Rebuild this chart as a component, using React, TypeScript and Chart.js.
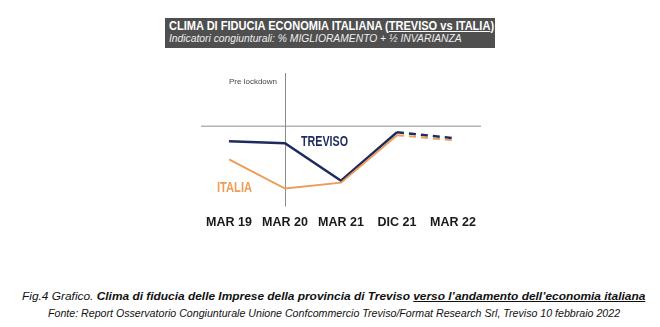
import React, { useEffect, useLayoutEffect, useRef } from 'react';
import { Chart, registerables } from 'chart.js';

Chart.register(...registerables);

const categories = ['MAR 19', 'MAR 20', 'MAR 21', 'DIC 21', 'MAR 22'];
const trevisoValues = [44.4, 43.7, 29.6, 47.8, 45.6];
const italiaValues = [37.6, 26.7, 28.9, 46.7, 44.8];
const referenceLevel = 50;
const yMin = 20;
const yMax = 70;
const lockdownIndex = 1;
const dashedFromIndex = 4;

const NAVY = '#1e2b5e';
const ORANGE = '#ee9c58';

const overlayPlugin = {
  id: 'overlay',
  beforeDatasetsDraw(chart: any) {
    const { ctx, chartArea, scales } = chart;
    const xs = scales.x;
    const ys = scales.y;
    ctx.save();
    const yr = ys.getPixelForValue(referenceLevel);
    ctx.strokeStyle = '#b4b4b4';
    ctx.lineWidth = 1.5;
    ctx.beginPath();
    ctx.moveTo(chartArea.left, yr);
    ctx.lineTo(chartArea.right, yr);
    ctx.stroke();
    const xv = Math.round(xs.getPixelForValue(lockdownIndex)) + 0.5;
    ctx.strokeStyle = '#8a8a8a';
    ctx.lineWidth = 1;
    ctx.beginPath();
    ctx.moveTo(xv, chartArea.top);
    ctx.lineTo(xv, chartArea.bottom);
    ctx.stroke();
    ctx.restore();
  },
  afterDatasetsDraw(chart: any) {
    const { ctx, scales } = chart;
    const xs = scales.x;
    const ys = scales.y;
    ctx.save();
    ctx.textBaseline = 'middle';
    const xv = xs.getPixelForValue(lockdownIndex);
    ctx.font = '8px "Liberation Sans"';
    ctx.fillStyle = '#444';
    ctx.textAlign = 'right';
    ctx.fillText('Pre lockdown', xv - 8, ys.getPixelForValue(66.7));
    ctx.textAlign = 'left';
    ctx.font = 'bold 14px "Liberation Sans"';
    ctx.fillStyle = NAVY;
    ctx.fillText('TREVISO', xv + 16, ys.getPixelForValue(44.1), 47);
    ctx.fillStyle = ORANGE;
    ctx.fillText('ITALIA', xs.getPixelForValue(0) - 12, ys.getPixelForValue(27), 35);
    ctx.restore();
  },
};

function FitText({ children, left, top, width, style }: any) {
  const ref = useRef<HTMLSpanElement>(null);
  useLayoutEffect(() => {
    const fit = () => {
      const el = ref.current;
      if (!el) return;
      el.style.transform = 'none';
      const w = el.scrollWidth;
      if (w > 0) el.style.transform = `scaleX(${width / w})`;
    };
    fit();
    if ((document as any).fonts) (document as any).fonts.ready.then(fit);
  }, [width]);
  return (
    <span
      ref={ref}
      style={{
        position: 'absolute',
        left,
        top,
        whiteSpace: 'nowrap',
        display: 'inline-block',
        transformOrigin: 'left top',
        fontFamily: '"Liberation Sans", Arial, sans-serif',
        ...style,
      }}
    >
      {children}
    </span>
  );
}

export default function App() {
  const canvasRef = useRef<HTMLCanvasElement>(null);

  useEffect(() => {
    document.body.style.margin = '0';
    const canvas = canvasRef.current;
    if (!canvas) return;
    const chart = new Chart(canvas, {
      type: 'line',
      data: {
        labels: categories,
        datasets: [
          {
            label: 'ITALIA',
            data: italiaValues,
            borderColor: ORANGE,
            borderWidth: 2,
            pointRadius: 0,
            tension: 0,
            segment: {
              borderDash: (c: any) => (c.p1DataIndex >= dashedFromIndex ? [7, 5] : undefined),
            },
          },
          {
            label: 'TREVISO',
            data: trevisoValues,
            borderColor: NAVY,
            borderWidth: 2.5,
            pointRadius: 0,
            tension: 0,
            segment: {
              borderDash: (c: any) => (c.p1DataIndex >= dashedFromIndex ? [7, 5] : undefined),
            },
          },
        ],
      },
      options: {
        responsive: false,
        animation: false,
        layout: { padding: { left: 201, right: 179, top: 73, bottom: 1.6 } },
        plugins: { legend: { display: false }, tooltip: { enabled: false }, title: { display: false } },
        scales: {
          x: {
            offset: true,
            grid: { display: false, drawTicks: false, tickLength: 0 },
            border: { display: false },
            ticks: {
              padding: 8.5,
              color: '#1a1a1a',
              font: { family: '"Liberation Sans"', size: 12.5, weight: 'bold' },
              maxRotation: 0,
              autoSkip: false,
            },
          },
          y: { display: false, min: yMin, max: yMax },
        },
      },
      plugins: [overlayPlugin],
    });
    return () => chart.destroy();
  }, []);

  return (
    <div style={{ position: 'relative', width: 660, height: 327, background: '#fff', overflow: 'hidden' }}>
      <div style={{ position: 'absolute', left: 165, top: 18, width: 330, height: 30, background: '#4f4f4f' }} />
      <FitText left={169} top={20} width={325} style={{ color: '#fff', fontWeight: 'bold', fontSize: 12, lineHeight: '13px' }}>
        CLIMA DI FIDUCIA ECONOMIA ITALIANA (<span style={{ textDecoration: 'underline' }}>TREVISO vs ITALIA</span>)
      </FitText>
      <FitText left={169} top={32} width={293} style={{ color: '#eee', fontStyle: 'italic', fontSize: 11.5, lineHeight: '13px' }}>
        Indicatori congiunturali: % MIGLIORAMENTO + ½ INVARIANZA
      </FitText>
      <canvas ref={canvasRef} width={660} height={240} style={{ position: 'absolute', left: 0, top: 0, width: 660, height: 240 }} />
      <FitText left={22} top={290} width={623} style={{ color: '#111', fontStyle: 'italic', fontSize: 11, lineHeight: '13px' }}>
        Fig.4 Grafico. <b>Clima di fiducia delle Imprese della provincia di Treviso </b>
        <b style={{ textDecoration: 'underline' }}>verso l’andamento dell’economia italiana</b>
      </FitText>
      <FitText left={48} top={307} width={572} style={{ color: '#111', fontStyle: 'italic', fontSize: 10.5, lineHeight: '12px' }}>
        Fonte: Report Osservatorio Congiunturale Unione Confcommercio Treviso/Format Research Srl, Treviso 10 febbraio 2022
      </FitText>
    </div>
  );
}
